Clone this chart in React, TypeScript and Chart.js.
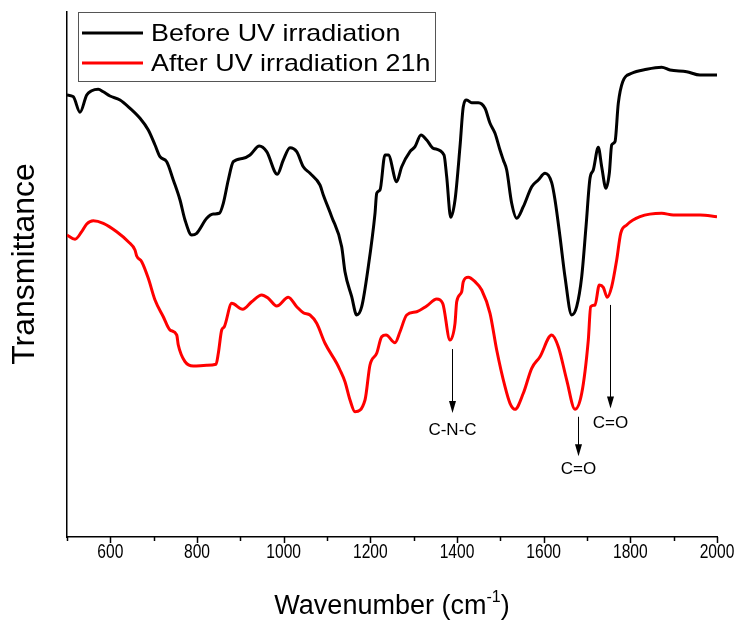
import React, { useEffect, useRef } from "react";
import { Chart, registerables } from "chart.js";

Chart.register(...registerables);

const beforeWavenumbers = [500, 514.5, 530, 545.5, 557, 572, 583.8, 599.2, 622.3, 645.4, 668.5, 687.6, 703.1, 714.6, 730.1, 745.3, 760.8, 772.3, 787.8, 799.3, 822.4, 837.6, 851.5, 860.7, 872.2, 883.8, 906.8, 922.3, 943.8, 960.8, 985.3, 999.2, 1014.6, 1030.1, 1045.3, 1060.8, 1083.8, 1091.5, 1110.8, 1133.9, 1141.5, 1157, 1168.5, 1180.1, 1195.3, 1210.8, 1214.7, 1222.3, 1233.8, 1241.5, 1260.8, 1272.4, 1291.5, 1303.1, 1316.9, 1330.1, 1345.3, 1370, 1376.2, 1385.5, 1395.4, 1406.9, 1414.5, 1422.4, 1433.9, 1449.2, 1464.6, 1476.2, 1487.7, 1499.2, 1506.8, 1514.7, 1526.2, 1537.8, 1553, 1572.4, 1587.6, 1603.1, 1618.5, 1626.2, 1637.7, 1649.2, 1664.7, 1676.2, 1687.8, 1697.7, 1706.9, 1714.5, 1726.1, 1733.9, 1743.8, 1751.5, 1757, 1764.6, 1772.2, 1782.4, 1803.1, 1837.8, 1872.4, 1891.5, 1930, 1960.8, 2000];
const beforeValues = [84.2, 83.87, 80.9, 84.2, 85.0, 85.28, 84.8, 84.0, 83.24, 81.66, 79.75, 77.52, 74.67, 72.44, 71.49, 68.0, 64.19, 60.38, 57.52, 57.85, 60.7, 61.52, 61.66, 63.56, 68.0, 71.49, 72.13, 72.76, 74.48, 73.39, 69.09, 71.81, 74.15, 73.39, 70.53, 69.28, 67.05, 65.14, 61.01, 55.3, 50.53, 45.77, 42.29, 43.87, 51.49, 61.66, 65.47, 66.1, 72.76, 72.76, 67.68, 70.53, 73.39, 74.34, 76.57, 75.62, 74.04, 72.76, 68.63, 60.9, 64.19, 74.34, 81.96, 83.24, 82.72, 82.72, 81.66, 78.8, 76.9, 73.71, 71.81, 69.9, 63.56, 60.7, 62.91, 66.72, 68.0, 69.28, 67.49, 64.19, 57.2, 49.58, 42.29, 43.87, 49.58, 59.1, 68.32, 69.9, 74.23, 70.53, 66.42, 69.28, 74.67, 75.3, 82.6, 86.72, 88.32, 89.09, 89.47, 88.95, 88.63, 88.0, 88.0];

const afterWavenumbers = [500, 518.5, 533.9, 545.5, 560.7, 583.8, 614.7, 641.5, 656.9, 660.8, 672.4, 687.6, 703.1, 722.2, 737.7, 753.2, 756.8, 772.3, 791.5, 822.4, 843.8, 849.2, 857, 863, 880.1, 905.5, 926.2, 949.3, 964.5, 983.9, 1010.7, 1030.1, 1045.3, 1060.8, 1076.2, 1095.4, 1122.4, 1130, 1141.5, 1153.1, 1164.6, 1187.7, 1199.2, 1214.7, 1226.2, 1236.2, 1256.9, 1268.5, 1283.9, 1307, 1330.1, 1353.2, 1367, 1383.8, 1395.4, 1399.3, 1410.8, 1414.5, 1426.1, 1441.5, 1457, 1476.2, 1491.6, 1510.8, 1522.3, 1533.8, 1553, 1572.4, 1591.5, 1618.5, 1633.8, 1653.2, 1672.3, 1687.8, 1703, 1708.5, 1718.5, 1728.4, 1737.6, 1746.8, 1757, 1768.5, 1777.8, 1791.6, 1822.3, 1872.4, 1899.2, 1960.8, 2000];
const afterValues = [57.52, 56.7, 58.15, 59.62, 60.25, 59.75, 58.15, 56.25, 54.67, 53.52, 52.44, 49.28, 45.14, 41.96, 39.43, 38.48, 36.57, 33.39, 32.57, 32.7, 32.9, 34.99, 39.43, 40.06, 44.51, 43.37, 44.82, 46.1, 45.47, 44.0, 45.66, 43.87, 42.72, 42.29, 40.7, 36.9, 33.09, 31.81, 29.58, 26.1, 23.87, 26.1, 32.76, 34.99, 38.15, 38.48, 37.01, 39.1, 42.29, 42.91, 44.0, 45.33, 44.51, 37.52, 40.7, 44.82, 46.72, 48.63, 49.47, 48.63, 47.05, 42.61, 35.62, 28.63, 25.47, 24.32, 27.37, 32.13, 34.34, 38.48, 36.25, 29.9, 24.32, 27.37, 37.52, 43.87, 44.19, 48.0, 47.56, 45.66, 47.68, 52.76, 57.85, 59.43, 61.01, 61.66, 61.33, 61.33, 61.01];

const seriesLabels = ["Before UV irradiation", "After UV irradiation 21h"];
const seriesColors = ["#000000", "#ff0000"];

const majorTicks = [600, 800, 1000, 1200, 1400, 1600, 1800, 2000];
const minorTicks = [500, 700, 900, 1100, 1300, 1500, 1700, 1900];

// annotation arrows: label, x, arrow start y, arrow end y, label y
const annoLabels = ["C-N-C", "C=O", "C=O"];
const annoX = [1388, 1680, 1753];
const annoStartY = [35.8, 22.9, 44.2];
const annoEndY = [23.6, 15.4, 24.5];
const annoLabelY = [20.4, 12.8, 21.7];

const FONT = "'Liberation Sans', Arial, sans-serif";

function drawScaledText(ctx: CanvasRenderingContext2D, text: string, x: number, y: number, sx: number, align: CanvasTextAlign) {
  ctx.save();
  ctx.translate(x, y);
  ctx.scale(sx, 1);
  ctx.textAlign = align;
  ctx.fillText(text, 0, 0);
  ctx.restore();
}

const decorPlugin = {
  id: "decor",
  afterDraw(chart: any) {
    const ctx = chart.ctx as CanvasRenderingContext2D;
    const xs = chart.scales.x;
    const ys = chart.scales.y;
    const area = chart.chartArea;
    ctx.save();

    // x ticks
    ctx.strokeStyle = "#000";
    ctx.lineWidth = 1.5;
    majorTicks.forEach((v) => {
      const px = Math.round(xs.getPixelForValue(v)) + 0.5;
      ctx.beginPath();
      ctx.moveTo(px, area.bottom);
      ctx.lineTo(px, area.bottom + 6);
      ctx.stroke();
    });
    minorTicks.forEach((v) => {
      const px = Math.round(xs.getPixelForValue(v)) + 0.5;
      ctx.beginPath();
      ctx.moveTo(px, area.bottom);
      ctx.lineTo(px, area.bottom + 4);
      ctx.stroke();
    });

    // tick labels (condensed)
    ctx.fillStyle = "#000";
    ctx.font = "20px " + FONT;
    ctx.textBaseline = "middle";
    majorTicks.forEach((v) => {
      drawScaledText(ctx, String(v), xs.getPixelForValue(v), area.bottom + 15, 0.78, "center");
    });

    // annotations
    ctx.fillStyle = "#000";
    ctx.lineWidth = 1;
    annoLabels.forEach((lab, i) => {
      const px = Math.round(xs.getPixelForValue(annoX[i])) + 0.5;
      const y1 = ys.getPixelForValue(annoStartY[i]);
      const y2 = ys.getPixelForValue(annoEndY[i]);
      ctx.beginPath();
      ctx.moveTo(px, y1);
      ctx.lineTo(px, y2 - 10);
      ctx.stroke();
      ctx.beginPath();
      ctx.moveTo(px - 3.5, y2 - 12);
      ctx.lineTo(px + 3.5, y2 - 12);
      ctx.lineTo(px, y2);
      ctx.closePath();
      ctx.fill();
      ctx.font = "17px " + FONT;
      ctx.textAlign = "center";
      ctx.textBaseline = "middle";
      ctx.fillText(lab, px, ys.getPixelForValue(annoLabelY[i]));
    });

    // legend
    ctx.strokeStyle = "#555";
    ctx.lineWidth = 1;
    ctx.strokeRect(78.5, 12.5, 357, 69);
    seriesLabels.forEach((lab, i) => {
      const cy = 33 + i * 30;
      ctx.strokeStyle = seriesColors[i];
      ctx.lineWidth = 3;
      ctx.beginPath();
      ctx.moveTo(82, cy);
      ctx.lineTo(143, cy);
      ctx.stroke();
      ctx.fillStyle = "#000";
      ctx.font = "24px " + FONT;
      ctx.textBaseline = "middle";
      drawScaledText(ctx, lab, 151, cy + 1, 1.12, "left");
    });

    // y title
    ctx.save();
    ctx.translate(25, 264);
    ctx.rotate(-Math.PI / 2);
    ctx.font = "32px " + FONT;
    ctx.textAlign = "center";
    ctx.textBaseline = "middle";
    ctx.fillStyle = "#000";
    ctx.fillText("Transmittance", 0, 0);
    ctx.restore();

    // x title with superscript
    const main = "Wavenumber (cm";
    const sup = "-1";
    const end = ")";
    ctx.font = "27px " + FONT;
    const w1 = ctx.measureText(main).width;
    const w3 = ctx.measureText(end).width;
    ctx.font = "16px " + FONT;
    const w2 = ctx.measureText(sup).width;
    const total = w1 + w2 + w3;
    const cx = (area.left + area.right) / 2;
    let x0 = cx - total / 2;
    const base = 614;
    ctx.textAlign = "left";
    ctx.textBaseline = "alphabetic";
    ctx.fillStyle = "#000";
    ctx.font = "27px " + FONT;
    ctx.fillText(main, x0, base);
    x0 += w1;
    ctx.font = "16px " + FONT;
    ctx.fillText(sup, x0, base - 12);
    x0 += w2;
    ctx.font = "27px " + FONT;
    ctx.fillText(end, x0, base);

    ctx.restore();
  },
};

export default function App() {
  const ref = useRef<HTMLCanvasElement | null>(null);
  useEffect(() => {
    if (!ref.current) return;
    const chart = new Chart(ref.current, {
      type: "line",
      data: {
        datasets: [
          {
            label: seriesLabels[0],
            data: beforeWavenumbers.map((x, i) => ({ x, y: beforeValues[i] })),
            borderColor: seriesColors[0],
            borderWidth: 3,
            pointRadius: 0,
            fill: false,
            cubicInterpolationMode: "monotone",
          },
          {
            label: seriesLabels[1],
            data: afterWavenumbers.map((x, i) => ({ x, y: afterValues[i] })),
            borderColor: seriesColors[1],
            borderWidth: 3,
            pointRadius: 0,
            fill: false,
            cubicInterpolationMode: "monotone",
          },
        ],
      },
      options: {
        animation: false,
        responsive: false,
        layout: { padding: { left: 67, right: 28, top: 12, bottom: 0 } },
        plugins: { legend: { display: false }, tooltip: { enabled: false } },
        scales: {
          x: {
            type: "linear",
            min: 500,
            max: 2000,
            afterBuildTicks: (scale: any) => {
              scale.ticks = majorTicks.map((v) => ({ value: v }));
            },
            afterFit: (scale: any) => {
              scale.height = 86;
            },
            grid: { display: false },
            border: { display: true, color: "#000", width: 1.5 },
            ticks: { display: false },
          },
          y: {
            type: "linear",
            min: 0,
            max: 100,
            afterFit: (scale: any) => {
              scale.width = 0;
            },
            grid: { display: false },
            border: { display: true, color: "#000", width: 1.5 },
            ticks: { display: false },
          },
        },
      },
      plugins: [decorPlugin],
    });
    return () => chart.destroy();
  }, []);
  return (
    <div style={{ position: "absolute", left: 0, top: 0, width: 745, height: 623, background: "#fff" }}>
      <canvas ref={ref} width={745} height={623} style={{ display: "block" }} />
    </div>
  );
}
